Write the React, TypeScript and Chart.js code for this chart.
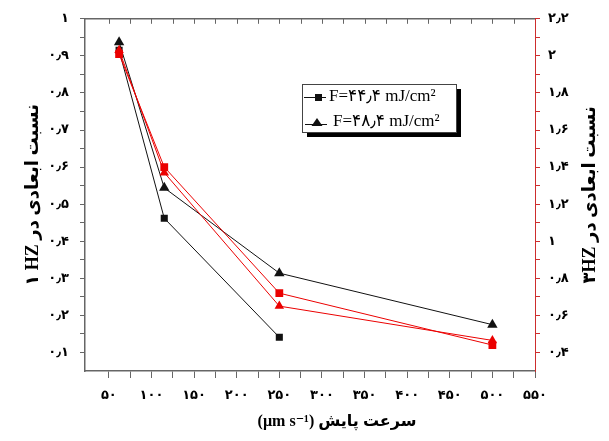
import React, { useEffect, useRef } from 'react';
import { Chart, registerables } from 'chart.js';

Chart.register(...registerables);

// ---- data ----
const speeds = [62, 115, 250, 500];
const f444Left = [0.915, 0.462, 0.141]; // black squares, left axis (1HZ)
const f484Left = [0.937, 0.544, 0.314, 0.175]; // black triangles, left axis
const f444Right = [2.01, 1.4, 0.72, 0.44]; // red squares, right axis (3HZ)
const f484Right = [2.03, 1.37, 0.65, 0.465]; // red triangles, right axis

const xTickValues = [50, 100, 150, 200, 250, 300, 350, 400, 450, 500, 550];
const xTickLabels = ['۵۰', '۱۰۰', '۱۵۰', '۲۰۰', '۲۵۰', '۳۰۰', '۳۵۰', '۴۰۰', '۴۵۰', '۵۰۰', '۵۵۰'];
const leftTickValues = [0.1, 0.2, 0.3, 0.4, 0.5, 0.6, 0.7, 0.8, 0.9, 1];
const leftTickLabels = ['۰٫۱', '۰٫۲', '۰٫۳', '۰٫۴', '۰٫۵', '۰٫۶', '۰٫۷', '۰٫۸', '۰٫۹', '۱'];
const rightTickValues = [0.4, 0.6, 0.8, 1, 1.2, 1.4, 1.6, 1.8, 2, 2.2];
const rightTickLabels = ['۰٫۴', '۰٫۶', '۰٫۸', '۱', '۱٫۲', '۱٫۴', '۱٫۶', '۱٫۸', '۲', '۲٫۲'];

const legendLabels = ['F=۴۴٫۴ mJ/cm²', 'F=۴۸٫۴ mJ/cm²'];
const xTitle = '(µm s⁻¹) سرعت پایش';
const leftTitle = '۱ HZ نسبت ابعادی در';
const rightTitle = '۳HZ نسبت ابعادی در';

// ---- styles ----
const AXIS_GRAY = '#666666';
const AXIS_RED = 'rgb(205,45,45)';
const BLACK = '#111111';
const RED = 'rgb(235,0,0)';
const TICK_FONT = { family: "'DejaVu Sans'", weight: 'bold' as const, size: 13 };
const TITLE_FONT_CSS = "bold 16px 'Liberation Serif', 'DejaVu Sans'";
const VTITLE_FONT_CSS = "bold 18px 'Liberation Serif', 'DejaVu Sans'";
const LEGEND_FONT_CSS = "17px 'Liberation Serif', 'DejaVu Sans'";

function labelFor(values: number[], labels: string[], v: number): string {
  const i = values.findIndex((t) => Math.abs(t - v) < 1e-6);
  return i >= 0 ? labels[i] : '';
}

function steps(from: number, to: number, step: number): { value: number }[] {
  const out: { value: number }[] = [];
  const n = Math.round((to - from) / step);
  for (let i = 0; i <= n; i++) out.push({ value: +(from + i * step).toFixed(4) });
  return out;
}

const overlayPlugin = {
  id: 'overlay',
  afterDraw(chart: any) {
    const { ctx, chartArea: ca, scales } = chart;
    const xs = scales.x;
    ctx.save();
    // top frame line with inward ticks
    ctx.strokeStyle = AXIS_GRAY;
    ctx.lineWidth = 1.5;
    ctx.beginPath();
    ctx.moveTo(ca.left, ca.top);
    ctx.lineTo(ca.right, ca.top);
    ctx.stroke();
    ctx.lineWidth = 1;
    ctx.beginPath();
    for (const t of xs.ticks) {
      const px = Math.round(xs.getPixelForValue(t.value)) + 0.5;
      if (px <= ca.left + 1 || px >= ca.right - 1) continue;
      ctx.moveTo(px, ca.top);
      ctx.lineTo(px, ca.top + 5);
    }
    ctx.stroke();

    // axis titles
    ctx.fillStyle = '#000';
    ctx.font = TITLE_FONT_CSS;
    ctx.textAlign = 'center';
    ctx.textBaseline = 'middle';
    ctx.fillText(xTitle, 337, 422);
    ctx.font = VTITLE_FONT_CSS;
    ctx.save();
    ctx.translate(590, (ca.top + ca.bottom) / 2);
    ctx.rotate(-Math.PI / 2);
    ctx.fillText(rightTitle, 0, 0);
    ctx.restore();
    ctx.save();
    ctx.translate(33, (ca.top + ca.bottom) / 2);
    ctx.rotate(-Math.PI / 2);
    ctx.fillText(leftTitle, 0, 0);
    ctx.restore();

    // legend box with shadow
    const bx = 302, by = 84, bw = 154, bh = 48;
    ctx.fillStyle = '#000';
    ctx.fillRect(bx + 5, by + 5, bw, bh);
    ctx.fillStyle = '#fff';
    ctx.fillRect(bx, by, bw, bh);
    ctx.strokeStyle = '#444';
    ctx.lineWidth = 1;
    ctx.strokeRect(bx + 0.5, by + 0.5, bw, bh);

    ctx.strokeStyle = BLACK;
    ctx.fillStyle = BLACK;
    // entry 1: square
    let y = 97;
    ctx.beginPath();
    ctx.moveTo(304, y + 0.5);
    ctx.lineTo(326, y + 0.5);
    ctx.stroke();
    ctx.fillRect(315, y - 3, 7, 7);
    // entry 2: triangle
    y = 122;
    ctx.beginPath();
    ctx.moveTo(305, y + 2.5);
    ctx.lineTo(327, y + 2.5);
    ctx.stroke();
    ctx.beginPath();
    ctx.moveTo(317, y - 4);
    ctx.lineTo(322.5, y + 4);
    ctx.lineTo(311.5, y + 4);
    ctx.closePath();
    ctx.fill();

    ctx.font = LEGEND_FONT_CSS;
    ctx.textAlign = 'left';
    ctx.textBaseline = 'middle';
    ctx.fillStyle = '#000';
    ctx.fillText(legendLabels[0], 329, 97);
    ctx.fillText(legendLabels[1], 333, 122);
    ctx.restore();
  },
};

export default function App() {
  const ref = useRef<HTMLCanvasElement | null>(null);
  useEffect(() => {
    document.body.style.margin = '0';
    const canvas = ref.current;
    if (!canvas) return;
    const pts = (ys: number[]) => ys.map((v, i) => ({ x: speeds[i], y: v }));
    const chart = new Chart(canvas, {
      type: 'line',
      data: {
        datasets: [
          {
            label: 'F=48.4 (3HZ)',
            data: pts(f484Right),
            yAxisID: 'y2',
            borderColor: RED,
            backgroundColor: RED,
            borderWidth: 1,
            pointStyle: 'triangle',
            pointRadius: 5.5,
            pointBorderWidth: 0,
          },
          {
            label: 'F=44.4 (3HZ)',
            data: pts(f444Right),
            yAxisID: 'y2',
            borderColor: RED,
            backgroundColor: RED,
            borderWidth: 1,
            pointStyle: 'rect',
            pointRadius: 5.5,
            pointBorderWidth: 0,
          },
          {
            label: 'F=48.4 (1HZ)',
            data: pts(f484Left),
            yAxisID: 'y',
            borderColor: BLACK,
            backgroundColor: BLACK,
            borderWidth: 1,
            pointStyle: 'triangle',
            pointRadius: 6,
            pointBorderWidth: 0,
          },
          {
            label: 'F=44.4 (1HZ)',
            data: pts(f444Left),
            yAxisID: 'y',
            borderColor: BLACK,
            backgroundColor: BLACK,
            borderWidth: 1,
            pointStyle: 'rect',
            pointRadius: 5,
            pointBorderWidth: 0,
          },
        ],
      },
      options: {
        responsive: false,
        animation: false,
        devicePixelRatio: 1,
        layout: { padding: { top: 13, left: 0, right: 0, bottom: 0 } },
        plugins: { legend: { display: false }, tooltip: { enabled: false } },
        elements: { line: { tension: 0 } },
        scales: {
          x: {
            type: 'linear',
            position: 'bottom',
            min: 22,
            max: 550,
            afterBuildTicks: (s: any) => {
              s.ticks = steps(50, 550, 25);
            },
            afterFit: (s: any) => {
              s.height = 70;
            },
            ticks: {
              autoSkip: false,
              maxRotation: 0,
              padding: 10,
              color: '#000',
              font: TICK_FONT,
              callback: (v: any) => labelFor(xTickValues, xTickLabels, Number(v)),
            },
            grid: { drawOnChartArea: false, tickLength: 7, color: AXIS_GRAY, tickWidth: 1 },
            border: { color: AXIS_GRAY, width: 1.5 },
          },
          y: {
            type: 'linear',
            position: 'left',
            min: 0.05,
            max: 1,
            afterBuildTicks: (s: any) => {
              s.ticks = steps(0.1, 1, 0.05);
            },
            afterFit: (s: any) => {
              s.width = 85;
            },
            ticks: {
              autoSkip: false,
              padding: 11,
              color: '#000',
              font: TICK_FONT,
              callback: (v: any) => labelFor(leftTickValues, leftTickLabels, Number(v)),
            },
            grid: { drawOnChartArea: false, tickLength: 5, color: AXIS_GRAY, tickWidth: 1 },
            border: { color: AXIS_GRAY, width: 1.5 },
          },
          y2: {
            type: 'linear',
            position: 'right',
            min: 0.3,
            max: 2.2,
            afterBuildTicks: (s: any) => {
              s.ticks = steps(0.4, 2.2, 0.1);
            },
            afterFit: (s: any) => {
              s.width = 74;
            },
            ticks: {
              autoSkip: false,
              padding: 8,
              color: '#000',
              font: TICK_FONT,
              callback: (v: any) => labelFor(rightTickValues, rightTickLabels, Number(v)),
            },
            grid: { drawOnChartArea: false, tickLength: 5, color: AXIS_RED, tickWidth: 1 },
            border: { color: AXIS_RED, width: 1 },
          },
        },
      },
      plugins: [overlayPlugin],
    });
    return () => chart.destroy();
  }, []);
  return (
    <div style={{ width: 609, height: 441, background: '#fff' }}>
      <canvas ref={ref} width={609} height={441} style={{ display: 'block' }} />
    </div>
  );
}
